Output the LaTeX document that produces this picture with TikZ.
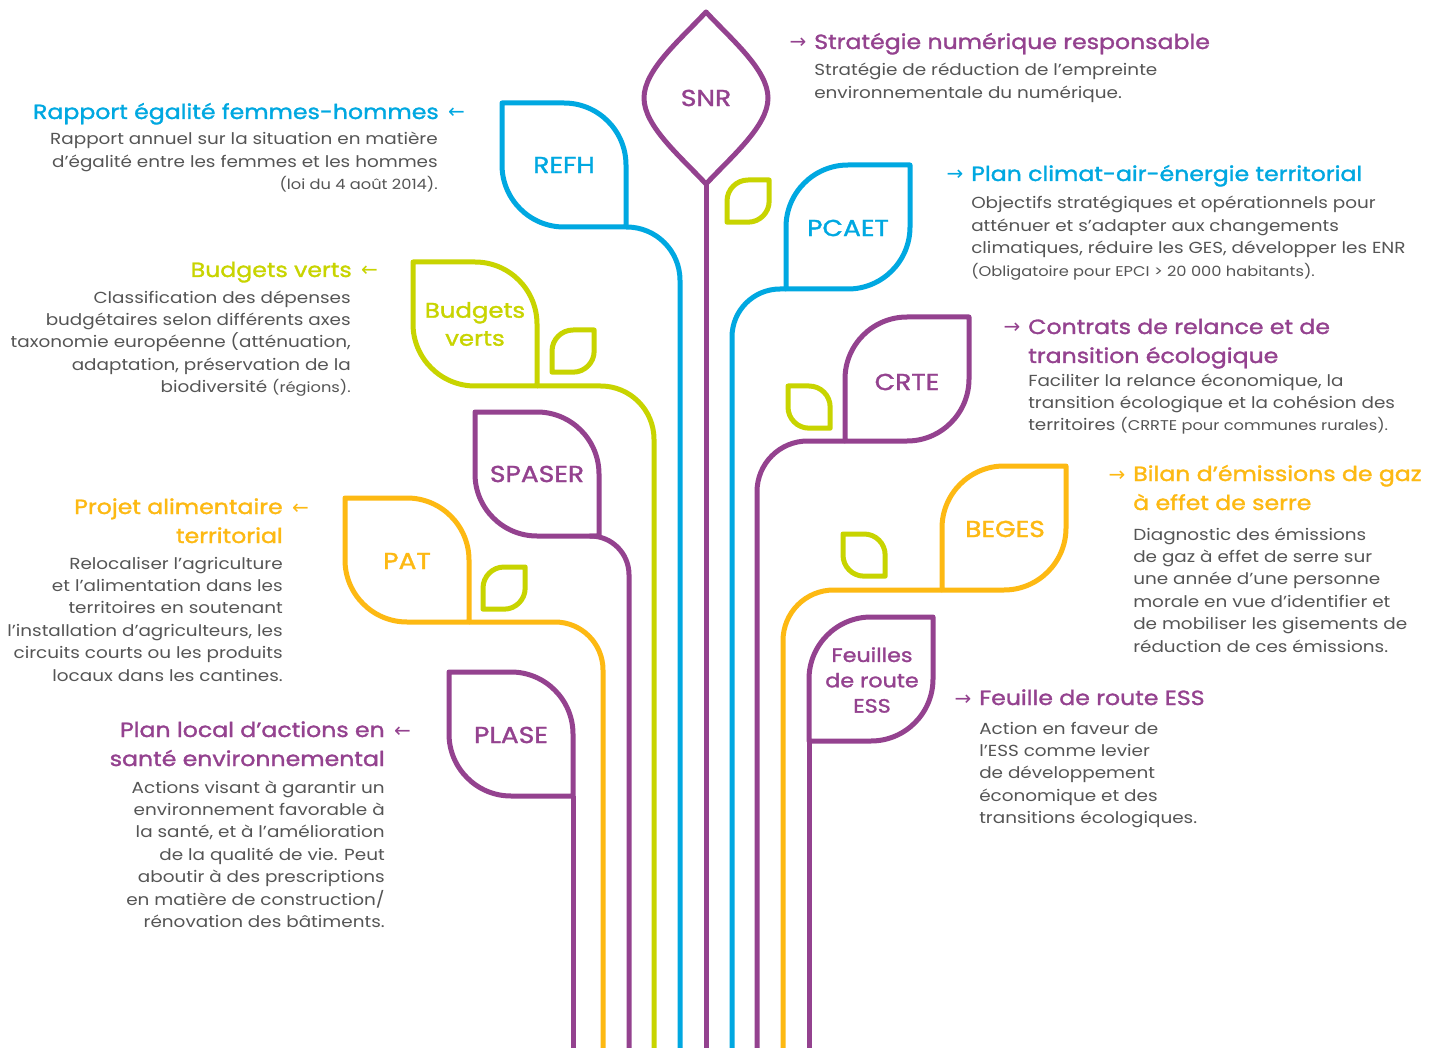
\documentclass[tikz,border=0pt]{standalone}
\usepackage{fontspec}
\setmainfont[FakeStretch=1.15]{Poppins}
\newfontfamily\titlefont[FakeBold=1.5,FakeStretch=1.15]{Poppins}
\newfontfamily\symf{DejaVu Sans}
\definecolor{cpur}{RGB}{148,66,143}
\definecolor{cblu}{RGB}{0,168,225}
\definecolor{cgrn}{RGB}{200,212,0}
\definecolor{cyel}{RGB}{253,185,19}
\definecolor{cgry}{RGB}{85,85,85}
\newcommand\lblf{\titlefont\fontsize{17.3pt}{19pt}\selectfont}
\newcommand\lblbf{\titlefont\fontsize{15.9pt}{21pt}\selectfont}
\newcommand\lblef{\titlefont\fontsize{14.5pt}{19pt}\selectfont}
\newcommand\ttlf{\titlefont\fontsize{15.4pt}{21.75pt}\selectfont}
\newcommand\bdyf{\fontsize{12pt}{16.8pt}\selectfont}
\newcommand\smlf{\fontsize{10.6pt}{16.8pt}\selectfont}
\newcommand\arrR{\llap{{\symf\fontsize{15pt}{15pt}\selectfont →}\hspace{6pt}}}
\newcommand\arrL{\rlap{\hspace{7pt}{\symf\fontsize{15pt}{15pt}\selectfont ←}}}
\begin{document}
\begin{tikzpicture}[x=0.75pt,y=-0.75pt,line join=round,
  stemline/.style={line width=3.75pt},
  leaflabel/.style={font=\lblf,inner sep=0pt,align=center},
  ttl/.style={font=\ttlf,inner sep=0pt},
  bdy/.style={font=\bdyf,text=cgry,inner sep=0pt},
  leafL/.pic={\draw[line width=3.75pt] (0,0) -- (62,0) .. controls (96.2,0) and (124,27.8) .. (124,62) -- (124,124) -- (62,124) .. controls (27.8,124) and (0,96.2) .. (0,62) -- cycle;},
  leafR/.pic={\draw[line width=3.75pt] (124,0) -- (124,62) .. controls (124,96.2) and (96.2,124) .. (62,124) -- (0,124) -- (0,62) .. controls (0,27.8) and (27.8,0) .. (62,0) -- cycle;}
]
\useasboundingbox (0,0) rectangle (1438,1048);
\fill[white] (0,0) rectangle (1438,1048);

% bottom ends of stems
\coordinate (b1) at (573,1048);
\coordinate (b2) at (603,1048);
\coordinate (b3) at (629,1048);
\coordinate (b4) at (654,1048);
\coordinate (b5) at (680,1048);
\coordinate (b6) at (706,1048);
\coordinate (b7) at (732,1048);
\coordinate (b8) at (757,1048);
\coordinate (b9) at (783,1048);
\coordinate (b10) at (809,1048);

% SNR
\draw[stemline,cpur] (706,12) .. controls (680,40) and (644,70) .. (644,98) .. controls (644,126) and (680,156) .. (706,184) .. controls (732,156) and (768,126) .. (768,98) .. controls (768,70) and (732,40) .. (706,12) -- cycle;
\coordinate (snrB) at (706,184);
\draw[stemline,cpur] (snrB) -- (b6);
\node[leaflabel,text=cpur] (snrL) at (706,98) {SNR};

% big leaves
\pic[cblu] at (502,103) {leafL};
\pic[cgrn] at (413,262) {leafL};
\pic[cpur] at (475,412) {leafL};
\pic[cyel] at (345,498) {leafL};
\pic[cpur] at (449,672) {leafL};
\pic[cblu] at (786,165) {leafR};
\pic[cpur] at (845,317) {leafR};
\pic[cyel] at (942,466) {leafR};
\pic[cpur] at (809,617) {leafR};

% small leaves
\pic[cgrn,scale=0.34] at (727,180) {leafR};
\pic[cgrn,scale=0.34] at (552,330) {leafR};
\pic[cgrn,scale=0.34] at (483,567) {leafR};
\pic[cgrn,scale=0.34] at (788,386) {leafL};
\pic[cgrn,scale=0.34] at (843,534) {leafL};

% connectors
\coordinate (refhC) at (626,227);
\coordinate (budC) at (537,386);
\coordinate (spaC) at (599,536);
\coordinate (patC) at (469,622);
\coordinate (plaC) at (573,796);
\coordinate (pcaC) at (786,289);
\coordinate (crtC) at (845,441);
\coordinate (begC) at (942,590);
\coordinate (essC) at (809,741);
\draw[stemline,cblu,rounded corners=40] (refhC) -- (refhC -| b5) -- (b5);
\draw[stemline,cgrn,rounded corners=40] (budC) -- (budC -| b4) -- (b4);
\draw[stemline,cpur,rounded corners=29] (spaC) -- (spaC -| b3) -- (b3);
\draw[stemline,cyel,rounded corners=36] (patC) -- (patC -| b2) -- (b2);
\draw[stemline,cpur] (plaC) -- (b1);
\draw[stemline,cblu,rounded corners=36] (pcaC) -- (pcaC -| b7) -- (b7);
\draw[stemline,cpur,rounded corners=38] (crtC) -- (crtC -| b8) -- (b8);
\draw[stemline,cyel,rounded corners=38] (begC) -- (begC -| b9) -- (b9);
\draw[stemline,cpur] (essC) -- (b10);

% leaf labels
\node[leaflabel,text=cblu] (refhL) at (564,165) {REFH};
\node[leaflabel,text=cgrn,font=\lblbf] (budL) at (475,324) {Budgets\\verts};
\node[leaflabel,text=cpur] (spaL) at (537,474) {SPASER};
\node[leaflabel,text=cyel] (patL) at (407,561) {PAT};
\node[leaflabel,text=cpur] (plaL) at (511,735) {PLASE};
\node[leaflabel,text=cblu] (pcaL) at (848,228) {PCAET};
\node[leaflabel,text=cpur] (crtL) at (907,382) {CRTE};
\node[leaflabel,text=cyel] (begL) at (1005,529) {BEGES};
\node[leaflabel,text=cpur,font=\lblef] (essL) at (872,680) {Feuilles\\de route\\ESS};

% right texts (base anchor = baseline of last line)
\node[ttl,text=cpur,anchor=base west] (snrT) at (814,49) {\arrR Stratégie numérique responsable};
\node[bdy,anchor=base west,align=left] (snrD) at (814,98.4) {Stratégie de réduction de l’empreinte\\environnementale du numérique.};

\node[ttl,text=cblu,anchor=base west] (pcaT) at (971,181) {\arrR Plan climat-air-énergie territorial};
\node[bdy,anchor=base west,align=left] (pcaD) at (971,276.2) {Objectifs stratégiques et opérationnels pour\\atténuer et s’adapter aux changements\\climatiques, réduire les GES, développer les ENR\\{\smlf(Obligatoire pour EPCI > 20 000 habitants).}};

\node[ttl,text=cpur,anchor=base west,align=left] (crtT) at (1028,363) {\arrR Contrats de relance et de\\transition écologique};
\node[bdy,anchor=base west,align=left] (crtD) at (1028,430.8) {Faciliter la relance économique, la\\transition écologique et la cohésion des\\territoires {\smlf(CRRTE pour communes rurales).}};

\node[ttl,text=cyel,anchor=base west,align=left] (begT) at (1133,510) {\arrR Bilan d’émissions de gaz\\à effet de serre};
\node[bdy,anchor=base west,align=left] (begD) at (1133,652) {Diagnostic des émissions\\de gaz à effet de serre sur\\une année d’une personne\\morale en vue d’identifier et\\de mobiliser les gisements de\\réduction de ces émissions.};

\node[ttl,text=cpur,anchor=base west] (essT) at (979,705) {\arrR Feuille de route ESS};
\node[bdy,anchor=base west,align=left] (essD) at (979,823.6) {Action en faveur de\\l’ESS comme levier\\de développement\\économique et des\\transitions écologiques.};

% left texts
\node[ttl,text=cblu,anchor=base east] (refhT) at (439,119) {Rapport égalité femmes-hommes\arrL};
\node[bdy,anchor=base east,align=right] (refhD) at (438,189.8) {Rapport annuel sur la situation en matière\\d’égalité entre les femmes et les hommes\\{\smlf(loi du 4 août 2014).}};

\node[ttl,text=cgrn,anchor=base east] (budT) at (352,277) {Budgets verts\arrL};
\node[bdy,anchor=base east,align=right] (budD) at (351,392.6) {Classification des dépenses\\budgétaires selon différents axes\\taxonomie européenne (atténuation,\\adaptation, préservation de la\\biodiversité {\smlf(régions).}};

\node[ttl,text=cyel,anchor=base east,align=right] (patT) at (283,543) {Projet alimentaire\arrL\\territorial};
\node[bdy,anchor=base east,align=right] (patD) at (283,681) {Relocaliser l’agriculture\\et l’alimentation dans les\\territoires en soutenant\\l’installation d’agriculteurs, les\\circuits courts ou les produits\\locaux dans les cantines.};

\node[ttl,text=cpur,anchor=base east,align=right] (plaT) at (385,766) {Plan local d’actions en\arrL\\santé environnemental};
\node[bdy,anchor=base east,align=right] (plaD) at (385,927.4) {Actions visant à garantir un\\environnement favorable à\\la santé, et à l’amélioration\\de la qualité de vie. Peut\\aboutir à des prescriptions\\en matière de construction/\\rénovation des bâtiments.};
\end{tikzpicture}
\end{document}
